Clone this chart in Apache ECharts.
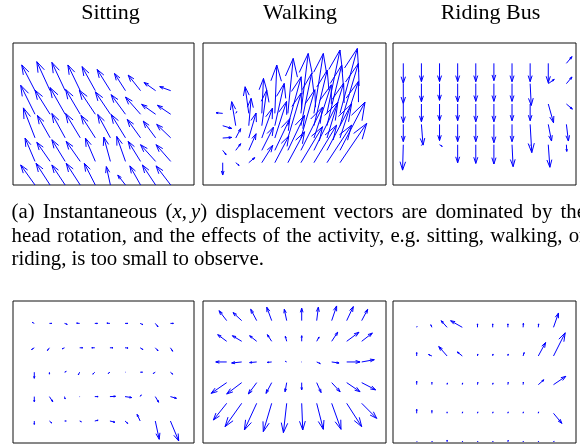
<!DOCTYPE html>
<html>
<head>
<meta charset="utf-8">
<script src="https://cdn.jsdelivr.net/npm/echarts@6/dist/echarts.min.js"></script>
<style>
html,body{margin:0;padding:0;background:#fff;}
#chart{width:580px;height:444px;}
</style>
</head>
<body>
<div id="chart"></div>
<script>
// ---------- data ----------
const titles = ['Sitting', 'Walking', 'Riding Bus'];
const gridCols = [1, 2, 3, 4, 5, 6, 7, 8, 9, 10];
const gridRows = [5, 4, 3, 2, 1]; // top to bottom

// (a) instantaneous displacement vectors (rows listed top to bottom)
const sittingU = [
  [-0.88,-0.88,-0.88,-0.82,-0.88,-0.88,-0.73,-0.82,-0.77,-0.73],
  [-0.95,-1.00,-1.00,-0.97,-1.06,-1.00,-0.95,-1.00,-0.93,-0.88],
  [-0.77,-0.84,-0.88,-0.97,-0.95,-0.84,-0.95,-0.88,-0.82,-0.93],
  [-0.66,-0.88,-0.88,-0.93,-0.66,-0.44,-0.58,-0.82,-1.00,-0.97],
  [-0.95,-0.93,-0.88,-0.93,-0.73,-0.27,-0.51,-0.71,-0.88,-0.97]];
const sittingV = [
  [1.09,1.23,1.20,1.09,1.02,0.90,0.73,0.66,0.35,0.17],
  [1.23,1.02,1.13,1.05,1.02,0.95,0.83,0.73,0.42,0.38],
  [1.27,0.95,1.03,1.03,0.95,0.99,0.99,0.78,0.71,0.57],
  [0.99,0.81,0.92,0.85,0.99,1.03,1.06,0.85,0.71,0.71],
  [0.85,0.92,0.85,0.92,0.92,0.78,0.42,0.81,0.85,0.81]];

const walkingU = [
  [-0.51,0.08,-0.28,0.13,0.15,0.41,0.56,0.72,1.00,1.33],
  [0.69,-0.31,0.18,0.38,0.72,1.02,0.82,1.02,1.13,1.41],
  [0.69,0.38,0.56,0.82,0.90,1.02,1.07,1.33,1.28,1.41],
  [0.26,0.38,0.56,0.90,1.15,1.28,1.66,1.84,1.89,1.92],
  [0.00,0.26,0.46,0.84,1.07,1.28,1.66,1.74,1.89,2.05]];
const walkingV = [
  [0.05,0.14,2.16,2.84,3.92,4.46,4.86,4.86,5.14,5.27],
  [-0.22,1.95,2.22,2.89,3.43,3.97,4.24,4.51,4.92,5.05],
  [0.05,0.76,2.03,2.43,2.97,3.65,3.92,4.32,4.46,4.59],
  [-0.35,0.54,1.35,1.89,2.57,2.84,3.51,3.92,3.78,3.92],
  [-1.00,-0.22,0.41,1.41,2.16,2.51,2.92,3.05,3.05,3.19]];

const busU = [
  [0,0,0,0,0,0,0,0,0,0.31],
  [0,0,0,0,0,0,0,0.06,0.33,0.31],
  [0,0,0,0,0,0,0,0,0.29,0.33],
  [0,0.09,0,0,0,0,0,0.09,0.18,0.11],
  [-0.04,0,0.15,0,0,0,0.06,0,0.09,0.02]];
const busV = [
  [-0.98,-0.90,-0.90,-0.90,-0.90,-0.85,-0.90,-0.90,-0.95,0.33],
  [-0.98,-0.89,-0.82,-0.90,-0.87,-0.87,-0.87,-1.07,0.21,0.33],
  [-0.92,-0.87,-0.82,-0.82,-0.87,-0.87,-0.82,-0.82,-0.92,-0.25],
  [-0.85,-1.02,-0.80,-0.85,-0.85,-0.90,-0.85,-1.39,-0.82,-0.82],
  [-1.25,-0.03,-0.08,-0.89,-0.92,-0.95,-1.08,-0.03,-1.11,-0.33]];

// (b) second row of panels
const sittingBU = [
  [-0.13,0.15,0.18,-0.20,0.18,-0.20,0.18,0.18,0.18,0.20],
  [-0.18,-0.13,-0.15,0.20,-0.20,0.20,0.20,0.18,0.18,0.15],
  [0,0,0.11,-0.09,-0.13,-0.11,0.02,0.15,-0.13,0.15],
  [0,0.22,0.04,0.02,0.22,0.37,0.44,0.07,0.22,0.40],
  [0,0.15,0.11,0.11,0.22,0.33,0.18,-0.20,0.26,0.55]];
const sittingBV = [
  [0.04,0,-0.04,0.01,0,0.01,0,-0.05,-0.14,0],
  [-0.07,-0.11,-0.04,0,0,0,-0.01,-0.07,-0.12,-0.14],
  [-0.25,-0.08,0.03,-0.11,-0.08,-0.05,0,0,-0.05,-0.08],
  [-0.21,-0.21,-0.10,0.01,0,0.01,-0.04,0.07,-0.23,-0.07],
  [-0.14,-0.08,0,-0.03,0.03,-0.05,-0.10,0.27,-0.75,-0.82]];

const walkingBU = [
  [-0.51,-0.58,-0.40,-0.33,-0.16,0,0.11,0.33,0.44,0.40],
  [-0.60,-0.62,-0.47,-0.29,-0.09,0,0.16,0.40,0.82,0.71],
  [-0.73,-0.67,-0.47,-0.29,-0.09,0.02,0.24,0.49,0.89,0.84],
  [-1.04,-1.00,-0.56,-0.38,-0.11,0,0.29,0.56,0.89,0.93],
  [-0.89,-1.11,-0.82,-0.56,-0.22,0.07,0.44,0.62,1.00,1.00]];
const walkingBV = [
  [0.48,0.39,0.55,0.65,0.55,0.60,0.65,0.71,0.68,0.55],
  [0.32,0.27,0.27,0.32,0.24,0.27,0.21,0.44,0.44,0.40],
  [0,-0.05,-0.03,-0.02,0.03,0,-0.08,-0.05,0,0.11],
  [-0.52,-0.55,-0.55,-0.52,-0.44,-0.35,-0.48,-0.44,-0.44,-0.35],
  [-0.81,-1.13,-1.29,-1.37,-1.42,-1.29,-1.26,-1.26,-1.13,-0.73]];

const busBU = [
  [0.02,-0.07,-0.39,-0.77,0,0,0,0.02,0.02,0.33],
  [0,-0.22,-0.55,-0.33,0.02,0.02,0.02,0.07,0.48,0.77],
  [0,0,0.02,0.02,0.02,0.02,0.02,0.02,0.37,0.81],
  [0,0,0,0.02,0.02,0.02,0.02,0.02,0.02,0.55],
  [0.02,0.02,0,0.02,0.02,0.02,0.02,0.02,0.02,0.04]];
const busBV = [
  [0.03,0.09,0.23,0.23,0.12,0.12,0.12,0.14,0.12,0.50],
  [0.12,0.05,0.33,0.14,0.07,0.07,0.07,0.12,0.47,0.81],
  [0.12,0.08,0.06,0.06,0.08,0.06,0.08,0.09,0.17,0.29],
  [0.14,0.10,0.05,0.05,0.05,0.05,0.05,0.05,0.05,-0.35],
  [0.02,0.03,0.07,0.03,0.03,0.03,0.06,0.03,0.03,0.03]];

const captionLines = [
  '(a) Instantaneous (*x*,\u2009*y*) displacement vectors are dominated by the',
  'head rotation, and the effects of the activity, e.g. sitting, walking, or',
  'riding, is too small to observe.'
];

// ---------- layout ----------
const panels = [
  {U: sittingU,  V: sittingV,  box: [13, 43, 181, 142],  x: [-0.459, 11.544], y: [1.0, 7.022]},
  {U: walkingU,  V: walkingV,  box: [203, 43, 183, 142], x: [-0.512, 13.53],  y: [-0.809, 10.71]},
  {U: busU,      V: busV,      box: [393, 43, 183, 142], x: [0.432, 10.53],   y: [-0.982, 6.0]},
  {U: sittingBU, V: sittingBV, box: [13, 301, 181, 142], x: [-0.408, 11.56],  y: [0.098, 5.918]},
  {U: walkingBU, V: walkingBV, box: [203, 301, 183, 142],x: [-0.58, 11.62],   y: [-0.921, 5.95]},
  {U: busBU,     V: busBV,     box: [393, 301, 183, 142],x: [-0.559, 11.48],  y: [0.965, 5.918]}
];
const titleCenters = [110.5, 300, 490.5];

const BLUE = '#0000ff';
function renderArrow(params, api) {
  const x = api.value(0), y = api.value(1), u = api.value(2), v = api.value(3);
  const p0 = api.coord([x, y]);
  const p1 = api.coord([x + u, y + v]);
  const dx = p1[0] - p0[0], dy = p1[1] - p0[1];
  const a = 0.33, b = 0.33;
  const h1 = [p1[0] - a * (dx + b * dy), p1[1] - a * (dy - b * dx)];
  const h2 = [p1[0] - a * (dx - b * dy), p1[1] - a * (dy + b * dx)];
  return {
    type: 'group',
    children: [
      {type: 'line', shape: {x1: p0[0], y1: p0[1], x2: p1[0], y2: p1[1]},
       style: {stroke: BLUE, lineWidth: 1}},
      {type: 'polyline', shape: {points: [h1, p1, h2]},
       style: {stroke: BLUE, lineWidth: 1, fill: null}}
    ]
  };
}

const grids = [], xAxes = [], yAxes = [], series = [];
panels.forEach((p, i) => {
  grids.push({left: p.box[0], top: p.box[1], width: p.box[2], height: p.box[3],
    show: true, borderColor: '#111', borderWidth: 1, backgroundColor: '#fff'});
  xAxes.push({type: 'value', gridIndex: i, min: p.x[0], max: p.x[1], show: false});
  yAxes.push({type: 'value', gridIndex: i, min: p.y[0], max: p.y[1], show: false});
  const data = [];
  gridRows.forEach((ry, r) => gridCols.forEach((cx, c) => {
    data.push([cx, ry, p.U[r][c], p.V[r][c]]);
  }));
  series.push({type: 'custom', xAxisIndex: i, yAxisIndex: i, renderItem: renderArrow,
    data: data, encode: {x: 0, y: 1}, clip: false, silent: true, animation: false});
});

// ---------- text ----------
const FONT = '"Liberation Serif", "Times New Roman", serif';
const CAP_SIZE = 20.8;
const mctx = document.createElement('canvas').getContext('2d');
function measure(t, italic) {
  mctx.font = (italic ? 'italic ' : '') + CAP_SIZE + 'px ' + FONT;
  return mctx.measureText(t).width;
}
function parseToken(tok) {
  const segs = [];
  tok.split('*').forEach((s, k) => { if (s) segs.push([s, k % 2 === 1]); });
  return segs;
}
const graphics = [];
titles.forEach((t, i) => {
  graphics.push({type: 'text', x: titleCenters[i], y: 12.8, silent: true,
    style: {text: t, font: '22px ' + FONT, fill: '#000', align: 'center', verticalAlign: 'middle'}});
});
const capLeft = 11.5, capRight = 586;
const capY = [212.4, 236.2, 260.0];
captionLines.forEach((line, li) => {
  const toks = line.split(' ').map(parseToken);
  const widths = toks.map(segs => segs.reduce((s, g) => s + measure(g[0], g[1]), 0));
  const total = widths.reduce((a, b) => a + b, 0);
  const justify = li < captionLines.length - 1;
  const gap = justify ? (capRight - capLeft - total) / (toks.length - 1) : measure(' ', false);
  let x = capLeft;
  toks.forEach((segs, k) => {
    let sx = x;
    segs.forEach(g => {
      graphics.push({type: 'text', x: sx, y: capY[li], silent: true,
        style: {text: g[0], font: (g[1] ? 'italic ' : '') + CAP_SIZE + 'px ' + FONT,
          fill: '#000', align: 'left', verticalAlign: 'middle'}});
      sx += measure(g[0], g[1]);
    });
    x += widths[k] + gap;
  });
});

const chart = echarts.init(document.getElementById('chart'), null, {renderer: 'canvas'});
chart.setOption({
  backgroundColor: '#fff',
  animation: false,
  grid: grids,
  xAxis: xAxes,
  yAxis: yAxes,
  series: series,
  graphic: graphics
});
</script>
</body>
</html>
